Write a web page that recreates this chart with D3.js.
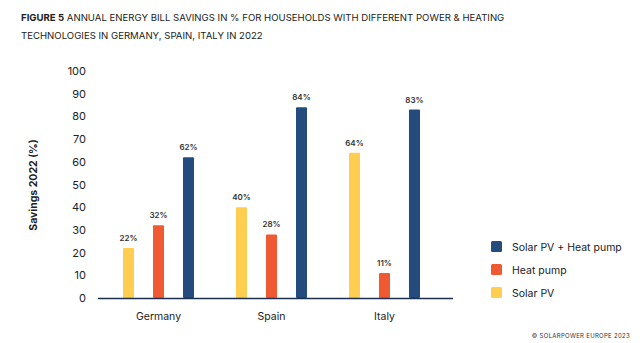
<!DOCTYPE html>
<html>
<head>
<meta charset="utf-8">
<script src="https://cdn.jsdelivr.net/npm/d3@7"></script>
<style>
  body { margin: 0; background: #fff; }
  svg { font-family: Inter, "Liberation Sans", sans-serif; }
</style>
</head>
<body>
<div id="chart"></div>
<script>
// savings per country and technology, 2022
const countries = ["Germany", "Spain", "Italy"];
const seriesNames = ["Solar PV", "Heat pump", "Solar PV + Heat pump"];
const solarPV = [22, 40, 64];
const heatPump = [32, 28, 11];
const solarPlusHeat = [62, 84, 83];
const yTicks = [0, 10, 20, 30, 40, 50, 60, 70, 80, 90, 100];
const colors = ["#ffcd50", "#f05a33", "#244b7d"];

const W = 643, H = 343;
const svg = d3.select("#chart").append("svg")
  .attr("width", W).attr("height", H);

// title
const title = svg.append("text").attr("font-size", 9.6).attr("fill", "#222");
const line1 = title.append("tspan").attr("x", 21).attr("y", 21);
line1.append("tspan").attr("font-weight", 700).text("FIGURE 5");
line1.append("tspan").text(" ANNUAL ENERGY BILL SAVINGS IN % FOR HOUSEHOLDS WITH DIFFERENT POWER & HEATING");
title.append("tspan").attr("x", 21).attr("y", 39)
  .text("TECHNOLOGIES IN GERMANY, SPAIN, ITALY IN 2022");

const series = [solarPV, heatPump, solarPlusHeat];
const data = countries.map((c, i) => ({
  country: c,
  values: series.map((s, k) => ({ key: seriesNames[k], value: s[i], k }))
}));

const y = d3.scaleLinear().domain([0, 100]).range([298, 71]);
const x0 = d3.scaleBand().domain(countries).range([102, 441]);
const x1 = d3.scaleBand().domain(seriesNames).range([21, 92]).paddingInner(0.633).paddingOuter(0);

// y axis labels only, no line
const yAxis = svg.append("g")
  .attr("transform", "translate(86,0)")
  .call(d3.axisLeft(y).tickValues(yTicks).tickSize(0).tickPadding(0));
yAxis.select(".domain").remove();
yAxis.selectAll("text")
  .attr("font-family", "Inter, 'Liberation Sans', sans-serif")
  .attr("font-size", 11).attr("fill", "#222");

svg.append("text")
  .attr("transform", "translate(37,185) rotate(-90)")
  .attr("text-anchor", "middle")
  .attr("font-size", 10.5).attr("font-weight", 700).attr("fill", "#222")
  .text("Savings 2022 (%)");

// bars
const groups = svg.selectAll(".grp").data(data).join("g")
  .attr("class", "grp")
  .attr("transform", d => `translate(${x0(d.country)},0)`);

groups.selectAll("rect").data(d => d.values).join("rect")
  .attr("x", d => x1(d.key))
  .attr("width", x1.bandwidth())
  .attr("y", d => y(d.value))
  .attr("height", d => y(0) - y(d.value))
  .attr("rx", 1)
  .attr("fill", d => colors[d.k]);

groups.selectAll(".lbl").data(d => d.values).join("text")
  .attr("class", "lbl")
  .attr("x", d => x1(d.key) + x1.bandwidth() / 2)
  .attr("y", d => y(d.value) - 7)
  .attr("text-anchor", "middle")
  .attr("font-size", 8).attr("font-weight", 600).attr("fill", "#333")
  .text(d => d.value + "%");

// baseline
svg.append("line")
  .attr("x1", 98).attr("x2", 453)
  .attr("y1", y(0) + 0.5).attr("y2", y(0) + 0.5)
  .attr("stroke", "#1d2f4f").attr("stroke-width", 1.5);

// category labels
svg.selectAll(".cat").data(countries).join("text")
  .attr("class", "cat")
  .attr("x", d => x0(d) + x1("Heat pump") + x1.bandwidth() / 2)
  .attr("y", 320)
  .attr("text-anchor", "middle")
  .attr("font-size", 10.5).attr("fill", "#222")
  .text(d => d);

// legend, top entry is the combined series
const legendOrder = [2, 1, 0];
const legend = svg.selectAll(".leg").data(legendOrder).join("g")
  .attr("class", "leg")
  .attr("transform", (d, i) => `translate(491,${241 + i * 23})`);
legend.append("rect")
  .attr("width", 11).attr("height", 11).attr("rx", 1.5)
  .attr("fill", d => colors[d]);
legend.append("text")
  .attr("x", 21).attr("y", 9.5)
  .attr("font-size", 10.5).attr("fill", "#222")
  .text(d => seriesNames[d]);

// source
svg.append("text")
  .attr("x", 630).attr("y", 338)
  .attr("text-anchor", "end")
  .attr("font-size", 6).attr("fill", "#333")
  .attr("letter-spacing", 0.3)
  .text("© SOLARPOWER EUROPE 2023");
</script>
</body>
</html>
